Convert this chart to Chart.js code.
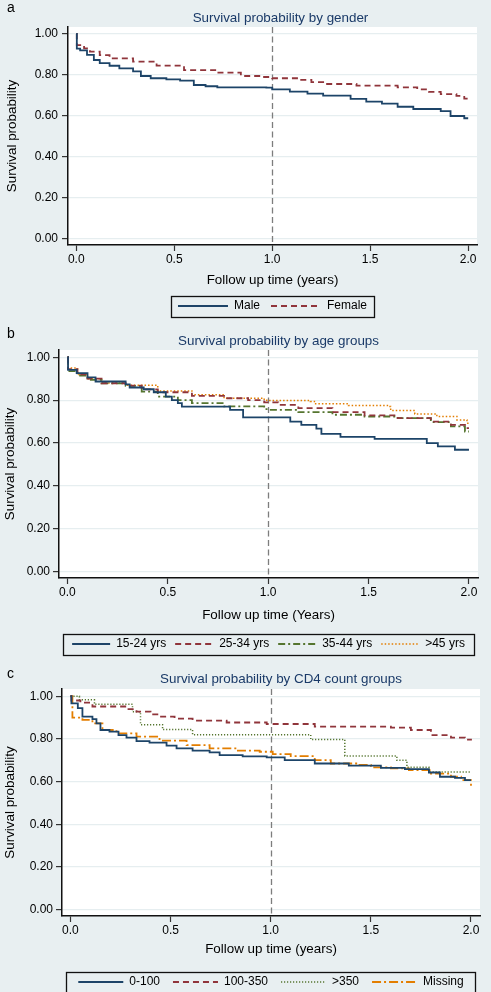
<!DOCTYPE html>
<html>
<head>
<meta charset="utf-8">
<script src="https://cdn.jsdelivr.net/npm/chart.js@4.4.1/dist/chart.umd.min.js"></script>
<style>
  html, body { margin: 0; padding: 0; width: 491px; height: 992px; overflow: hidden; background: #e8eff1; }
  .panel { position: absolute; left: 0; width: 491px; }
  .tag { position: absolute; left: 7px; font: 14px "Liberation Sans", Arial, sans-serif; line-height: 14px; color: #000; }
</style>
</head>
<body>
<div class="panel" style="top:0;height:322px"><canvas id="chartA" width="491" height="322"></canvas></div>
<div class="panel" style="top:322px;height:338px"><canvas id="chartB" width="491" height="338"></canvas></div>
<div class="panel" style="top:660px;height:338px"><canvas id="chartC" width="491" height="338"></canvas></div>
<div class="tag" style="top:0px">a</div>
<div class="tag" style="top:326px">b</div>
<div class="tag" style="top:666px">c</div>

<script>
// axis ticks
const xTicks = [0, 0.5, 1, 1.5, 2];
const yTicks = [0, 0.2, 0.4, 0.6, 0.8, 1];

// panel a: by gender
const maleT = [0, 0.003, 0.02, 0.055, 0.09, 0.12, 0.17, 0.22, 0.29, 0.33, 0.38, 0.46, 0.53, 0.60, 0.66, 0.72, 0.97, 1.00, 1.09, 1.18, 1.26, 1.40, 1.48, 1.56, 1.64, 1.72, 1.86, 1.91, 1.98, 2.00];
const maleS = [1, 0.928, 0.920, 0.898, 0.873, 0.858, 0.845, 0.832, 0.818, 0.795, 0.784, 0.779, 0.772, 0.751, 0.745, 0.740, 0.738, 0.730, 0.719, 0.709, 0.699, 0.683, 0.670, 0.660, 0.645, 0.634, 0.624, 0.600, 0.589, 0.589];
const femaleT = [0, 0.003, 0.04, 0.07, 0.12, 0.17, 0.29, 0.41, 0.55, 0.72, 0.84, 0.95, 1.00, 1.14, 1.20, 1.26, 1.43, 1.64, 1.74, 1.80, 1.86, 1.94, 1.98, 2.00];
const femaleS = [1, 0.946, 0.930, 0.914, 0.897, 0.881, 0.865, 0.846, 0.824, 0.811, 0.795, 0.790, 0.784, 0.776, 0.765, 0.756, 0.748, 0.740, 0.730, 0.718, 0.707, 0.698, 0.685, 0.678];

// panel b: by age group
const age1524T = [0, 0.003, 0.046, 0.10, 0.14, 0.29, 0.31, 0.38, 0.43, 0.49, 0.52, 0.55, 0.57, 0.81, 0.875, 1.11, 1.165, 1.24, 1.265, 1.36, 1.53, 1.79, 1.845, 1.93, 2.00];
const age1524S = [1, 0.941, 0.926, 0.906, 0.887, 0.874, 0.859, 0.851, 0.837, 0.817, 0.800, 0.786, 0.770, 0.755, 0.720, 0.700, 0.685, 0.667, 0.643, 0.629, 0.620, 0.600, 0.585, 0.569, 0.569];
const age2534T = [0, 0.003, 0.05, 0.10, 0.17, 0.29, 0.37, 0.45, 0.62, 0.78, 0.90, 0.98, 1.05, 1.15, 1.32, 1.48, 1.645, 1.81, 1.91, 1.98, 2.00];
const age2534S = [1, 0.945, 0.920, 0.900, 0.879, 0.868, 0.850, 0.837, 0.820, 0.809, 0.800, 0.790, 0.778, 0.763, 0.744, 0.729, 0.716, 0.700, 0.685, 0.670, 0.670];
const age3544T = [0, 0.003, 0.05, 0.10, 0.17, 0.29, 0.37, 0.45, 0.55, 0.62, 0.78, 0.98, 1.00, 1.15, 1.32, 1.48, 1.645, 1.81, 1.91, 1.98, 2.00];
const age3544S = [1, 0.935, 0.915, 0.895, 0.878, 0.867, 0.840, 0.817, 0.800, 0.786, 0.771, 0.758, 0.755, 0.744, 0.732, 0.724, 0.716, 0.698, 0.678, 0.654, 0.654];
const age45T = [0, 0.003, 0.05, 0.10, 0.17, 0.29, 0.45, 0.62, 0.78, 0.98, 1.00, 1.21, 1.23, 1.40, 1.60, 1.61, 1.73, 1.84, 1.94, 1.99, 2.00];
const age45S = [1, 0.950, 0.920, 0.900, 0.880, 0.870, 0.843, 0.825, 0.809, 0.800, 0.798, 0.794, 0.783, 0.775, 0.771, 0.752, 0.736, 0.724, 0.708, 0.693, 0.693];

// panel c: by CD4 count group
const cd4LowT = [0, 0.005, 0.037, 0.06, 0.11, 0.13, 0.15, 0.195, 0.24, 0.28, 0.33, 0.395, 0.48, 0.53, 0.61, 0.695, 0.745, 0.86, 0.98, 1.07, 1.22, 1.39, 1.55, 1.67, 1.79, 1.845, 1.92, 1.97, 2.00];
const cd4LowS = [1, 0.967, 0.944, 0.905, 0.893, 0.873, 0.842, 0.834, 0.818, 0.806, 0.790, 0.783, 0.769, 0.756, 0.745, 0.737, 0.724, 0.718, 0.714, 0.701, 0.685, 0.675, 0.665, 0.659, 0.643, 0.623, 0.618, 0.607, 0.607];
const cd4MidT = [0, 0.005, 0.05, 0.11, 0.28, 0.33, 0.40, 0.445, 0.52, 0.61, 0.78, 0.98, 1.22, 1.60, 1.70, 1.80, 1.90, 1.97, 2.00];
const cd4MidS = [1, 0.980, 0.970, 0.952, 0.940, 0.928, 0.915, 0.905, 0.895, 0.886, 0.877, 0.870, 0.858, 0.853, 0.842, 0.818, 0.806, 0.797, 0.793];
const cd4HighT = [0, 0.045, 0.12, 0.31, 0.35, 0.46, 0.61, 1.20, 1.37, 1.63, 1.68, 1.79, 2.00];
const cd4HighS = [1, 0.983, 0.962, 0.927, 0.867, 0.844, 0.820, 0.797, 0.720, 0.700, 0.668, 0.645, 0.645];
const cd4MissT = [0, 0.01, 0.06, 0.11, 0.16, 0.23, 0.33, 0.445, 0.58, 0.695, 0.83, 0.945, 1.01, 1.10, 1.22, 1.30, 1.44, 1.50, 1.60, 1.69, 1.80, 1.90, 1.95, 2.00];
const cd4MissS = [1, 0.900, 0.889, 0.873, 0.842, 0.826, 0.811, 0.792, 0.771, 0.756, 0.745, 0.740, 0.729, 0.720, 0.701, 0.685, 0.678, 0.667, 0.662, 0.654, 0.638, 0.623, 0.607, 0.581];

const NAVY = '#1d4468', MAROON = '#90353b', GREEN = '#55752f', ORANGE = '#e37e00';
const FONT = '"Liberation Sans", Arial, Helvetica, sans-serif';
Chart.defaults.font.family = FONT;
Chart.defaults.color = '#000';

function steps(t, s) {
  return t.map((v, i) => ({ x: v, y: s[i] }));
}

function series(label, t, s, color, dash, width) {
  return {
    label: label,
    data: steps(t, s),
    borderColor: color,
    backgroundColor: color,
    borderWidth: width || 1.8,
    borderDash: dash,
    stepped: true,
    pointRadius: 0,
    fill: false
  };
}

// white plot region, dashed reference line at 1 year, frame around legend
const kmFrame = {
  id: 'kmFrame',
  afterLayout(chart, args, opts) {
    const t = chart.titleBlock;
    if (t) { t.left += opts.titleShift; t.right += opts.titleShift; }
  },
  beforeDraw(chart) {
    const { ctx, chartArea: a } = chart;
    ctx.save();
    ctx.fillStyle = '#ffffff';
    ctx.fillRect(a.left, a.top, a.right - a.left, a.bottom - a.top);
    ctx.restore();
  },
  beforeDatasetsDraw(chart) {
    const { ctx, chartArea: a } = chart;
    const x = Math.round(chart.scales.x.getPixelForValue(1)) + 0.5;
    ctx.save();
    ctx.strokeStyle = '#7d7d7d';
    ctx.lineWidth = 1.3;
    ctx.setLineDash([6, 3.5]);
    ctx.beginPath();
    ctx.moveTo(x, a.top);
    ctx.lineTo(x, a.bottom);
    ctx.stroke();
    ctx.restore();
  },
  afterDraw(chart, args, opts) {
    const hb = chart.legend.legendHitBoxes;
    if (!hb || !hb.length) return;
    const l = Math.min(...hb.map(h => h.left)) - opts.padX;
    const r = Math.max(...hb.map(h => h.left + h.width)) + opts.padX;
    const cy = hb[0].top + hb[0].height / 2;
    const ctx = chart.ctx;
    ctx.save();
    ctx.strokeStyle = '#111';
    ctx.lineWidth = 1.3;
    ctx.strokeRect(Math.round(l) + 0.5, Math.round(cy - 10.5) + 0.5, Math.round(r - l), 21);
    ctx.restore();
  }
};

function makePanel(id, cfg) {
  return new Chart(document.getElementById(id), {
    type: 'line',
    data: { datasets: cfg.datasets },
    plugins: [kmFrame],
    options: {
      responsive: false,
      animation: false,
      devicePixelRatio: 1,
      layout: { padding: { left: cfg.padLeft, right: cfg.padRight, top: 0, bottom: 0 } },
      plugins: {
        kmFrame: { padX: cfg.frameX, titleShift: cfg.titleShift },
        title: {
          display: true,
          text: cfg.title,
          fullSize: false,
          color: '#1a3a68',
          font: { size: 13.4, weight: 'normal' },
          padding: { top: cfg.titleTop, bottom: cfg.titleBottom }
        },
        legend: {
          position: 'bottom',
          fullSize: false,
          labels: {
            usePointStyle: true,
            pointStyle: 'line',
            pointStyleWidth: cfg.sample,
            padding: cfg.legendPad,
            color: '#000',
            font: { size: 12 },
            generateLabels: chart => chart.data.datasets.map((d, i) => ({
              text: d.label,
              strokeStyle: d.borderColor,
              fillStyle: 'rgba(0,0,0,0)',
              fontColor: '#000',
              lineWidth: d.borderWidth,
              lineDash: d.borderDash || [],
              lineCap: 'butt',
              pointStyle: 'line',
              hidden: false,
              datasetIndex: i
            }))
          }
        },
        tooltip: { enabled: false }
      },
      scales: {
        x: {
          type: 'linear',
          min: -0.042,
          max: 2.045,
          afterBuildTicks: s => { s.ticks = xTicks.map(v => ({ value: v })); },
          afterFit: s => { s.height = cfg.xHeight; },
          ticks: { callback: v => v.toFixed(1), font: { size: 12 }, color: '#000', padding: 1, maxRotation: 0, autoSkip: false },
          grid: { drawOnChartArea: false, drawTicks: true, tickLength: 6, tickColor: '#333', tickWidth: 1.2 },
          border: { display: true, color: '#111', width: 1.5 },
          title: { display: true, text: cfg.xTitle, font: { size: 13.4 }, color: '#000', padding: { top: 0, bottom: cfg.xTitlePad } }
        },
        y: {
          type: 'linear',
          min: -0.029,
          max: 1.034,
          afterBuildTicks: s => { s.ticks = yTicks.map(v => ({ value: v })); },
          afterFit: s => { s.width = cfg.yWidth; },
          ticks: { callback: v => v.toFixed(2), font: { size: 12 }, color: '#000', padding: cfg.yTickPad },
          grid: { color: '#e6eef0', lineWidth: 1.2, tickLength: 6, tickColor: '#333', tickWidth: 1.2 },
          border: { display: true, color: '#111', width: 1.5 },
          title: { display: true, text: 'Survival probability', font: { size: 13.4 }, color: '#000', padding: 0 }
        }
      }
    }
  });
}

makePanel('chartA', {
  title: 'Survival probability by gender',
  xTitle: 'Follow up time (years)',
  datasets: [
    series('Male', maleT, maleS, NAVY, []),
    series('Female', femaleT, femaleS, MAROON, [6, 4])
  ],
  padLeft: 4, padRight: 14, yWidth: 64, yTickPad: 4,
  titleTop: 10, titleBottom: 0.9, titleShift: 8,
  xHeight: 44, xTitlePad: 1,
  sample: 50, legendPad: 11, frameX: 7
});

makePanel('chartB', {
  title: 'Survival probability by age groups',
  xTitle: 'Follow up time (Years)',
  datasets: [
    series('15-24 yrs', age1524T, age1524S, NAVY, []),
    series('25-34 yrs', age2534T, age2534S, MAROON, [6, 4]),
    series('35-44 yrs', age3544T, age3544S, GREEN, [7, 3, 2, 3]),
    series('>45 yrs', age45T, age45S, ORANGE, [1.5, 2], 1.5)
  ],
  padLeft: 2, padRight: 13, yWidth: 57, yTickPad: 3,
  titleTop: 11, titleBottom: 0.9, titleShift: 10,
  xHeight: 51, xTitlePad: 6,
  sample: 38, legendPad: 9, frameX: 9
});

makePanel('chartC', {
  title: 'Survival probability by CD4 count groups',
  xTitle: 'Follow up time (years)',
  datasets: [
    series('0-100', cd4LowT, cd4LowS, NAVY, []),
    series('100-350', cd4MidT, cd4MidS, MAROON, [6, 4]),
    series('>350', cd4HighT, cd4HighS, GREEN, [1.2, 1.8], 1.5),
    series('Missing', cd4MissT, cd4MissS, ORANGE, [9, 3, 2, 3])
  ],
  padLeft: 2, padRight: 11, yWidth: 60, yTickPad: 3,
  titleTop: 11, titleBottom: 1.9, titleShift: 10,
  xHeight: 47, xTitlePad: 6,
  sample: 45, legendPad: 13, frameX: 12
});
</script>
</body>
</html>
